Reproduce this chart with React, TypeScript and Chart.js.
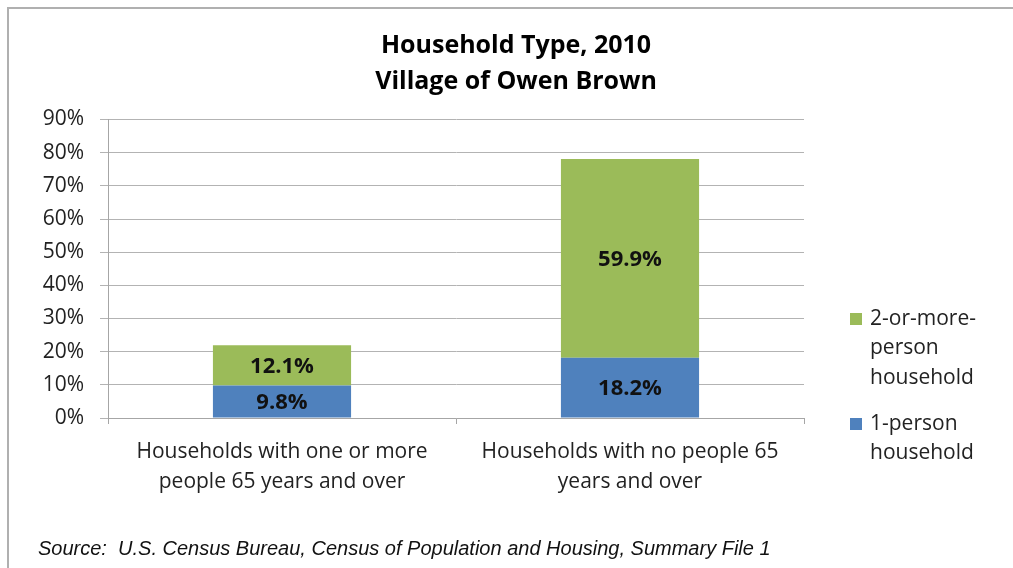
import React, { useEffect, useRef } from "react";
import { Chart, registerables } from "chart.js";

Chart.register(...registerables);

const titleLines = ["Household Type, 2010", "Village of Owen Brown"];
const categories = [
  ["Households with one or more", "people 65 years and over"],
  ["Households with no people 65", "years and over"],
];
const onePersonLabel = ["1-person", "household"];
const twoPlusLabel = ["2-or-more-", "person", "household"];
const onePerson = [9.8, 18.2];
const twoPlus = [12.1, 59.9];
const sourceText = "Source:  U.S. Census Bureau, Census of Population and Housing, Summary File 1";

const BLUE = "#4F81BD";
const GREEN = "#9BBB59";
const FONT = "'Open Sans', 'DejaVu Sans', sans-serif";

const extrasPlugin = {
  id: "extras",
  afterDatasetsDraw(chart: any) {
    const ctx = chart.ctx;
    ctx.save();
    ctx.font = `bold 22px ${FONT}`;
    ctx.fillStyle = "#111";
    ctx.textAlign = "center";
    ctx.textBaseline = "middle";
    chart.data.datasets.forEach((ds: any, di: number) => {
      const meta = chart.getDatasetMeta(di);
      meta.data.forEach((el: any, i: number) => {
        const p = el.getProps(["x", "y", "base"], true);
        ctx.fillText(ds.data[i].toFixed(1) + "%", p.x, (p.y + p.base) / 2 + 1);
      });
    });
    ctx.restore();
  },
  afterDraw(chart: any) {
    const ctx = chart.ctx;
    ctx.save();
    ctx.fillStyle = "#000";
    ctx.textAlign = "center";
    ctx.textBaseline = "middle";
    ctx.font = `bold 25px ${FONT}`;
    titleLines.forEach((t, i) => ctx.fillText(t, 516, 46 + i * 36));
    ctx.textAlign = "left";
    ctx.font = `21px ${FONT}`;
    const items = chart.data.datasets
      .map((ds: any) => ({ color: ds.backgroundColor, lines: ds.legendLines }))
      .reverse();
    let y = 319;
    items.forEach((it: any) => {
      ctx.fillStyle = it.color;
      ctx.fillRect(850, y - 6, 12, 12);
      ctx.fillStyle = "#222";
      it.lines.forEach((ln: string, k: number) => {
        ctx.fillText(ln, 870, y + k * 29.5);
      });
      y += it.lines.length * 29.5 + 16.5;
    });
    ctx.fillStyle = "#111";
    ctx.font = `italic 20px 'Liberation Sans', Arial, sans-serif`;
    ctx.fillText(sourceText, 38, 549);
    ctx.restore();
  },
};

export default function App() {
  const ref = useRef<HTMLCanvasElement>(null);
  useEffect(() => {
    const chart = new Chart(ref.current as HTMLCanvasElement, {
      type: "bar",
      data: {
        labels: categories,
        datasets: [
          {
            label: onePersonLabel.join(" "),
            data: onePerson,
            backgroundColor: BLUE,
            legendLines: onePersonLabel,
          } as any,
          {
            label: twoPlusLabel.join(" "),
            data: twoPlus,
            backgroundColor: GREEN,
            legendLines: twoPlusLabel,
          } as any,
        ],
      },
      options: {
        animation: false,
        responsive: false,
        devicePixelRatio: 1,
        layout: { padding: { left: 8, top: 119.5, right: 209, bottom: 50 } },
        datasets: { bar: { categoryPercentage: 1, barPercentage: 0.397 } },
        plugins: {
          legend: { display: false },
          title: { display: false },
          tooltip: { enabled: false },
        },
        scales: {
          x: {
            stacked: true,
            afterFit: (s: any) => {
              s.height = 100;
            },
            grid: {
              display: true,
              drawOnChartArea: false,
              drawTicks: true,
              tickLength: 6,
              offset: true,
              color: "#a6a6a6",
            },
            border: { display: true, color: "#a6a6a6" },
            ticks: {
              color: "#222",
              padding: 13,
              font: { family: FONT, size: 21, lineHeight: 1.43 },
              maxRotation: 0,
              autoSkip: false,
            },
          },
          y: {
            stacked: true,
            min: 0,
            max: 90,
            afterFit: (s: any) => {
              s.width = 100;
            },
            grid: { color: "#b3b3b3", tickLength: 8, drawTicks: true },
            border: { display: true, color: "#a6a6a6" },
            ticks: {
              stepSize: 10,
              padding: 16,
              color: "#222",
              font: { family: FONT, size: 21 },
              callback: (v: any) => v + "%",
            },
          },
        },
      },
      plugins: [extrasPlugin],
    } as any);
    return () => chart.destroy();
  }, []);
  return (
    <div style={{ position: "fixed", left: 0, top: 0, width: 1100, height: 700, background: "#fff" }}>
      <div
        style={{
          position: "absolute",
          left: 7,
          top: 7,
          width: 1100,
          height: 700,
          borderLeft: "2px solid #b0b0b0",
          borderTop: "2px solid #b0b0b0",
        }}
      />
      <canvas ref={ref} width={1013} height={568} style={{ position: "absolute", left: 0, top: 0 }} />
    </div>
  );
}
